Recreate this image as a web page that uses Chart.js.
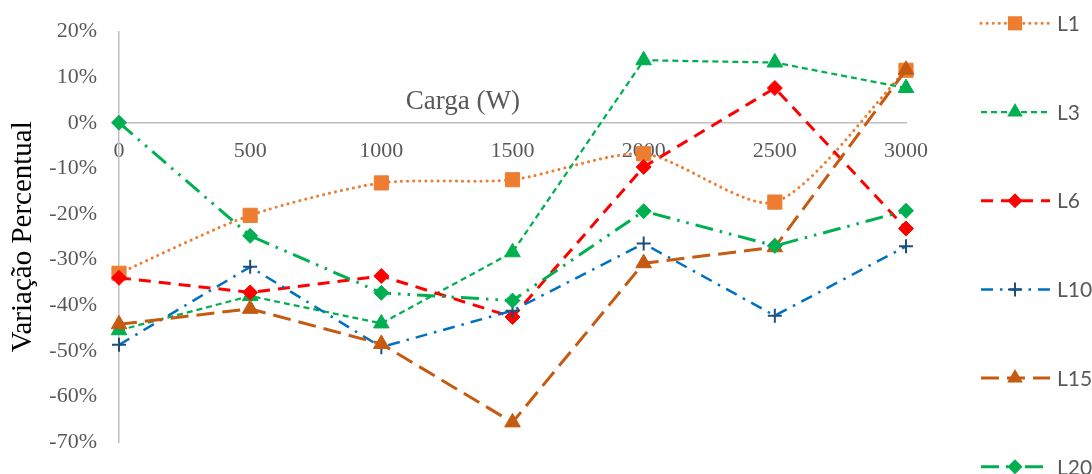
<!DOCTYPE html>
<html>
<head>
<meta charset="utf-8">
<script src="https://cdn.jsdelivr.net/npm/chart.js@4"></script>
<style>
  html, body { margin: 0; padding: 0; background: #fff; }
</style>
</head>
<body>
<canvas id="lineChart" width="1092" height="474"></canvas>
<script>
// dados (variação em %)
const cargas = ['0', '500', '1000', '1500', '2000', '2500', '3000'];
const nomes = ['L1', 'L3', 'L6', 'L10', 'L15', 'L20'];
const L1 = [-33, -20.3, -13.2, -12.5, -6.8, -17.4, 11.5];
const L3 = [-45.5, -38, -44, -28.4, 13.7, 13.2, 7.6];
const L6 = [-34, -37.2, -33.6, -42.6, -9.7, 7.6, -23.2];
const L10 = [-48.7, -31.6, -49.2, -41.2, -26.5, -42.3, -27.1];
const L15 = [-44.2, -40.8, -48.5, -65.7, -30.8, -27.3, 11.6];
const L20 = [0, -24.8, -37.3, -39, -19.4, -27, -19.3];
const yMin = -70, yMax = 20, yPasso = 10;

const serif = '"Liberation Serif", "Times New Roman", serif';

function desenhaMarcador(ctx, estilo, r, x, y, cor, borda) {
  ctx.save();
  ctx.fillStyle = cor;
  ctx.strokeStyle = borda || cor;
  ctx.setLineDash([]);
  ctx.beginPath();
  if (estilo === 'rect') {
    const s = r * Math.SQRT1_2;
    ctx.rect(x - s, y - s, 2 * s, 2 * s);
    ctx.fill();
  } else if (estilo === 'rectRot') {
    ctx.moveTo(x, y - r); ctx.lineTo(x + r, y); ctx.lineTo(x, y + r); ctx.lineTo(x - r, y);
    ctx.closePath(); ctx.fill();
  } else if (estilo === 'triangle') {
    ctx.moveTo(x, y - r);
    ctx.lineTo(x + r * Math.sin(2 * Math.PI / 3), y + r / 2);
    ctx.lineTo(x - r * Math.sin(2 * Math.PI / 3), y + r / 2);
    ctx.closePath(); ctx.fill();
  } else if (estilo === 'cross') {
    ctx.lineWidth = 2;
    ctx.moveTo(x - r, y); ctx.lineTo(x + r, y);
    ctx.moveTo(x, y - r); ctx.lineTo(x, y + r);
    ctx.stroke();
  }
  ctx.restore();
}

// legenda lateral + título do eixo x
const extras = {
  id: 'extras',
  afterDraw(chart) {
    const ctx = chart.ctx;
    const area = chart.chartArea;
    const y0 = chart.scales.y.getPixelForValue(0);
    ctx.save();
    ctx.font = '27px ' + serif;
    ctx.fillStyle = '#595959';
    ctx.textAlign = 'center';
    ctx.textBaseline = 'middle';
    ctx.fillText('Carga (W)', area.left + (area.right - area.left) * 0.437, y0 - 21);

    chart.data.datasets.forEach((ds, i) => {
      const y = 23.3 + i * 88.7;
      ctx.save();
      ctx.strokeStyle = ds.borderColor;
      ctx.lineWidth = ds.borderWidth;
      ctx.lineCap = ds.borderCapStyle || 'butt';
      ctx.setLineDash(ds.borderDash || []);
      ctx.beginPath();
      ctx.moveTo(981, y);
      ctx.lineTo(1050, y);
      ctx.stroke();
      ctx.restore();
      desenhaMarcador(ctx, ds.pointStyle, ds.pointRadius, 1015, y, ds.pointBackgroundColor, ds.pointBorderColor);
      ctx.font = '21px Lato, "Open Sans", sans-serif';
      ctx.fillStyle = '#595959';
      ctx.textAlign = 'left';
      ctx.textBaseline = 'middle';
      ctx.fillText(ds.label, 1057, y + 1);
    });
    ctx.restore();
  }
};

function serie(nome, dados, cor, traco, estilo, raio, larg, ordem, extra) {
  return Object.assign({
    label: nome,
    data: dados,
    borderColor: cor,
    borderWidth: larg,
    borderDash: traco,
    backgroundColor: cor,
    pointStyle: estilo,
    pointRadius: raio,
    pointHoverRadius: raio,
    pointBackgroundColor: cor,
    pointBorderColor: cor,
    pointBorderWidth: 1,
    tension: 0,
    fill: false,
    order: ordem
  }, extra || {});
}

const ctxLine = document.getElementById('lineChart').getContext('2d');

new Chart(ctxLine, {
  type: 'line',
  data: {
    labels: cargas,
    datasets: [
      serie(nomes[0], L1, '#ED7D31', [0.1, 6], 'rect', 10, 3, 6, { borderCapStyle: 'round', tension: 0.25 }),
      serie(nomes[1], L3, '#00B050', [6, 4], 'triangle', 9, 2.25, 5),
      serie(nomes[2], L6, '#FF0000', [12, 8], 'rectRot', 7.5, 3, 4),
      serie(nomes[3], L10, '#0070C0', [12, 7, 2.5, 7], 'cross', 7, 2.5, 3, { pointBorderColor: '#1F4E79', pointBorderWidth: 2 }),
      serie(nomes[4], L15, '#C55A11', [18, 8], 'triangle', 9, 3, 2),
      serie(nomes[5], L20, '#00B050', [18, 7, 2.5, 7, 2.5, 7], 'rectRot', 7.5, 3, 1)
    ]
  },
  options: {
    responsive: false,
    animation: false,
    layout: { padding: { left: 0, top: 31.5, right: 186, bottom: 32 } },
    plugins: {
      legend: { display: false },
      tooltip: { enabled: false }
    },
    scales: {
      x: {
        position: { y: 0 },
        grid: { display: false, drawTicks: false },
        border: { display: true, color: '#BFBFBF', width: 1.5 },
        ticks: {
          color: '#595959',
          font: { family: serif, size: 22 },
          padding: 15,
          maxRotation: 0,
          autoSkip: false
        }
      },
      y: {
        min: yMin,
        max: yMax,
        grid: { display: false, drawTicks: false },
        border: { display: true, color: '#BFBFBF', width: 1.5 },
        ticks: {
          stepSize: yPasso,
          color: '#595959',
          font: { family: serif, size: 22 },
          padding: 22,
          callback: v => v + '%'
        },
        title: {
          display: true,
          text: 'Variação Percentual',
          color: '#000',
          font: { family: serif, size: 29 },
          padding: { top: 6, bottom: 0 }
        },
        afterFit(scale) {
          scale.width = 119;
          scale.paddingTop = 0;
          scale.paddingBottom = 0;
        }
      }
    }
  },
  plugins: [extras]
});
</script>
</body>
</html>
